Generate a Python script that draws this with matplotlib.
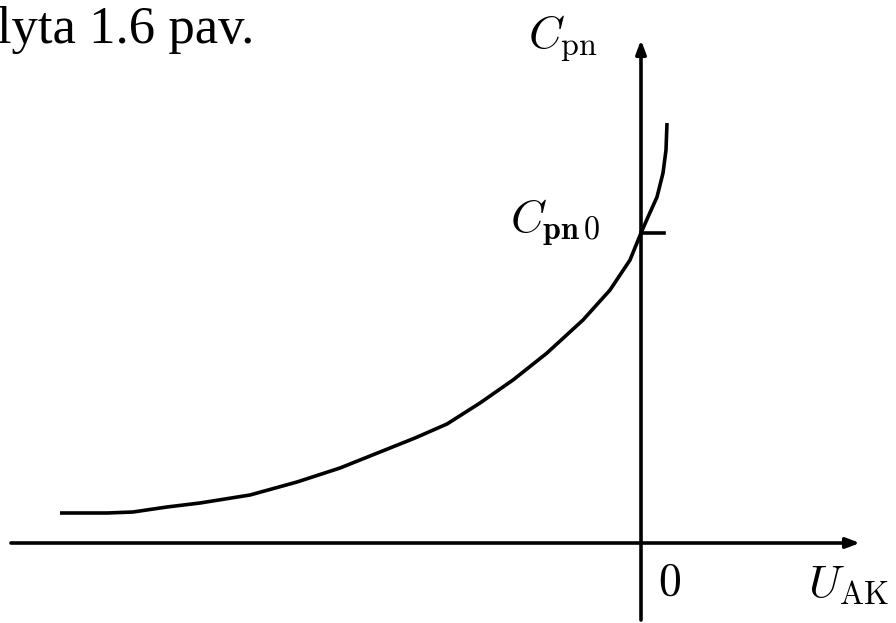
import numpy as np
import matplotlib.pyplot as plt

plt.rcParams['mathtext.fontset'] = 'cm'

# barrier capacitance vs. voltage (arbitrary units)
U = np.array([-5.81, -5.34, -5.08, -4.74, -4.41, -4.16, -3.91, -3.44, -3.01, -2.61,
              -2.26, -1.94, -1.61, -1.28, -0.94, -0.58, -0.31, -0.11, 0.0, 0.07,
              0.16, 0.22, 0.25, 0.26])
C = np.array([0.30, 0.30, 0.31, 0.36, 0.40, 0.44, 0.48, 0.61, 0.75, 0.91,
              1.05, 1.19, 1.40, 1.63, 1.90, 2.23, 2.53, 2.83, 3.10, 3.26,
              3.46, 3.70, 3.93, 4.20])
C0 = C[U == 0][0]

fig = plt.figure(figsize=(8.96, 6.23), dpi=100)
ax = fig.add_axes([0, 0, 1, 1])
ax.set_xlim(-6.41, 2.55)
ax.set_ylim(-0.80, 5.43)
ax.axis('off')

# axes with arrow heads
arw = dict(arrowstyle='-|>,head_length=0.8,head_width=0.3', color='black', lw=2.6,
           shrinkA=0, shrinkB=0)
ax.annotate('', xy=(2.19, 0), xytext=(-6.30, 0), arrowprops=arw)
ax.annotate('', xy=(0, 5.03), xytext=(0, -0.77), arrowprops=arw)

ax.plot(U, C, color='black', lw=2.6, solid_capstyle='butt', solid_joinstyle='round')
ax.plot([0, 0.23], [C0, C0], color='black', lw=2.6)

ax.text(-6.44, 5.00, 'lyta 1.6 pav.', fontsize=38, family='Liberation Serif',
        va='baseline', ha='left')
ax.text(-1.13, 4.95, r'$C_{\mathrm{pn}}$', fontsize=33, va='baseline', ha='left')
ax.text(-1.31, 3.11, r'$C_{\mathbf{pn\,0}}$', fontsize=33, va='baseline', ha='left')
ax.text(0.17, -0.52, r'$0$', fontsize=33, va='baseline', ha='left')
ax.text(1.67, -0.54, r'$U_{\mathrm{AK}}$', fontsize=33, va='baseline', ha='left')

fig.savefig('out.png', dpi=100)
